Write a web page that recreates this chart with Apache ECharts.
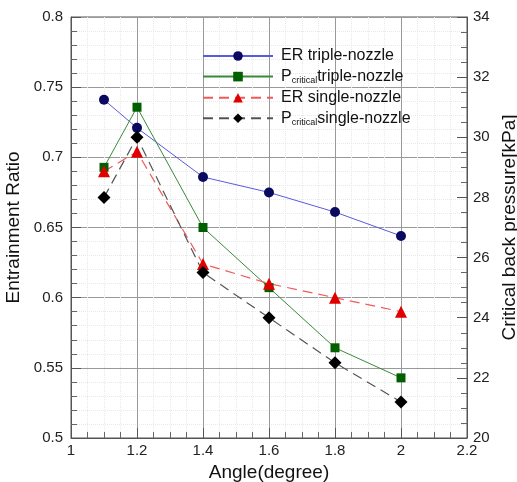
<!DOCTYPE html>
<html>
<head>
<meta charset="utf-8">
<script src="https://cdn.jsdelivr.net/npm/echarts@6/dist/echarts.min.js"></script>
<style>html,body{margin:0;padding:0;background:#fff;}#c{width:517px;height:482px;}</style>
</head>
<body>
<div id="c"></div>
<script>
const angles = [1.1, 1.2, 1.4, 1.6, 1.8, 2.0];
const erTriple = [0.741, 0.721, 0.686, 0.675, 0.661, 0.644];
const pTriple = [29.0, 31.0, 27.0, 25.0, 23.0, 22.0];
const erSingle = [0.690, 0.704, 0.624, 0.610, 0.600, 0.590];
const pSingle = [28.0, 30.0, 25.5, 24.0, 22.5, 21.2];

const pair = (xs, ys) => xs.map((x, i) => [x, ys[i]]);
const font = 'Liberation Sans, Arial, sans-serif';

const chart = echarts.init(document.getElementById('c'), null, {renderer: 'canvas'});
chart.setOption({
  animation: false,
  backgroundColor: '#fff',
  grid: {left: 71, top: 17, right: 50, bottom: 44, show: true, borderColor: '#555', borderWidth: 1,
    containLabel: false, outerBoundsMode: 'none'},
  legend: {
    orient: 'vertical', left: 197, top: 43, itemWidth: 70, itemHeight: 12, itemGap: 4.6,
    textStyle: {fontFamily: font, fontSize: 16, color: '#111', padding: [0, 0, 0, 3],
      rich: {
        p: {fontFamily: font, fontSize: 16, color: '#111'},
        sub: {fontFamily: font, fontSize: 9, color: '#111', padding: [8, 0, 0, 0]},
        t: {fontFamily: font, fontSize: 16, color: '#111'}
      }},
    formatter: function (n) {
      if (n.indexOf('Pcritical') === 0) {
        return '{p|P}{sub|critical}{t|' + n.slice(10) + '}';
      }
      return n;
    },
    data: ['ER triple-nozzle', 'Pcritical triple-nozzle', 'ER single-nozzle', 'Pcritical single-nozzle']
  },
  xAxis: {
    type: 'value', min: 1, max: 2.2, interval: 0.2,
    name: 'Angle(degree)', nameLocation: 'middle', nameGap: 20,
    nameTextStyle: {fontFamily: font, fontSize: 19, color: '#111'},
    axisLine: {show: true, lineStyle: {color: '#555'}},
    axisTick: {show: true, inside: true, length: 10, lineStyle: {color: '#555'}},
    minorTick: {show: true, splitNumber: 4, length: 6, lineStyle: {color: '#666'}},
    splitLine: {show: true, lineStyle: {color: '#999', width: 1}},
    minorSplitLine: {show: true, lineStyle: {color: '#e8e8e8', type: 'dotted'}},
    axisLabel: {fontFamily: font, fontSize: 15, color: '#222', margin: 5,
      formatter: v => String(Math.round(v * 10) / 10)}
  },
  yAxis: [{
    type: 'value', min: 0.5, max: 0.8, interval: 0.05,
    name: 'Entrainment Ratio', nameLocation: 'middle', nameGap: 41,
    nameTextStyle: {fontFamily: font, fontSize: 19, color: '#111'},
    axisLine: {show: true, lineStyle: {color: '#555'}},
    axisTick: {show: true, inside: true, length: 10, lineStyle: {color: '#555'}},
    minorTick: {show: true, splitNumber: 5, length: 6, lineStyle: {color: '#666'}},
    splitLine: {show: true, lineStyle: {color: '#999', width: 1}},
    minorSplitLine: {show: true, lineStyle: {color: '#e8e8e8', type: 'dotted'}},
    axisLabel: {fontFamily: font, fontSize: 15, color: '#222', margin: 8,
      formatter: v => String(Math.round(v * 100) / 100)}
  }, {
    type: 'value', min: 20, max: 34, interval: 2, position: 'right',
    name: 'Critical back pressure[kPa]', nameLocation: 'middle', nameGap: 31,
    nameTextStyle: {fontFamily: font, fontSize: 19, color: '#111'},
    axisLine: {show: true, lineStyle: {color: '#555'}},
    axisTick: {show: true, inside: true, length: 10, lineStyle: {color: '#555'}},
    minorTick: {show: true, splitNumber: 4, length: 6, lineStyle: {color: '#666'}},
    splitLine: {show: false},
    axisLabel: {fontFamily: font, fontSize: 15, color: '#222', margin: 6}
  }],
  series: [{
    name: 'ER triple-nozzle', type: 'line', yAxisIndex: 0,
    data: pair(angles, erTriple), symbol: 'circle', symbolSize: 10,
    lineStyle: {color: '#5a5ae0', width: 1},
    itemStyle: {color: '#0a0a60'}
  }, {
    name: 'Pcritical triple-nozzle', type: 'line', yAxisIndex: 1,
    data: pair(angles, pTriple), symbol: 'rect', symbolSize: 9,
    lineStyle: {color: '#3a8a3a', width: 1},
    itemStyle: {color: '#006000'}
  }, {
    name: 'ER single-nozzle', type: 'line', yAxisIndex: 0,
    data: pair(angles, erSingle), symbol: 'triangle', symbolSize: 12,
    lineStyle: {color: '#f05a5a', width: 1.2, type: [10, 6]},
    itemStyle: {color: '#e00000'}
  }, {
    name: 'Pcritical single-nozzle', type: 'line', yAxisIndex: 1,
    data: pair(angles, pSingle), symbol: 'diamond', symbolSize: 13,
    lineStyle: {color: '#555', width: 1.2, type: [10, 6]},
    itemStyle: {color: '#000'}
  }]
});
</script>
</body>
</html>
